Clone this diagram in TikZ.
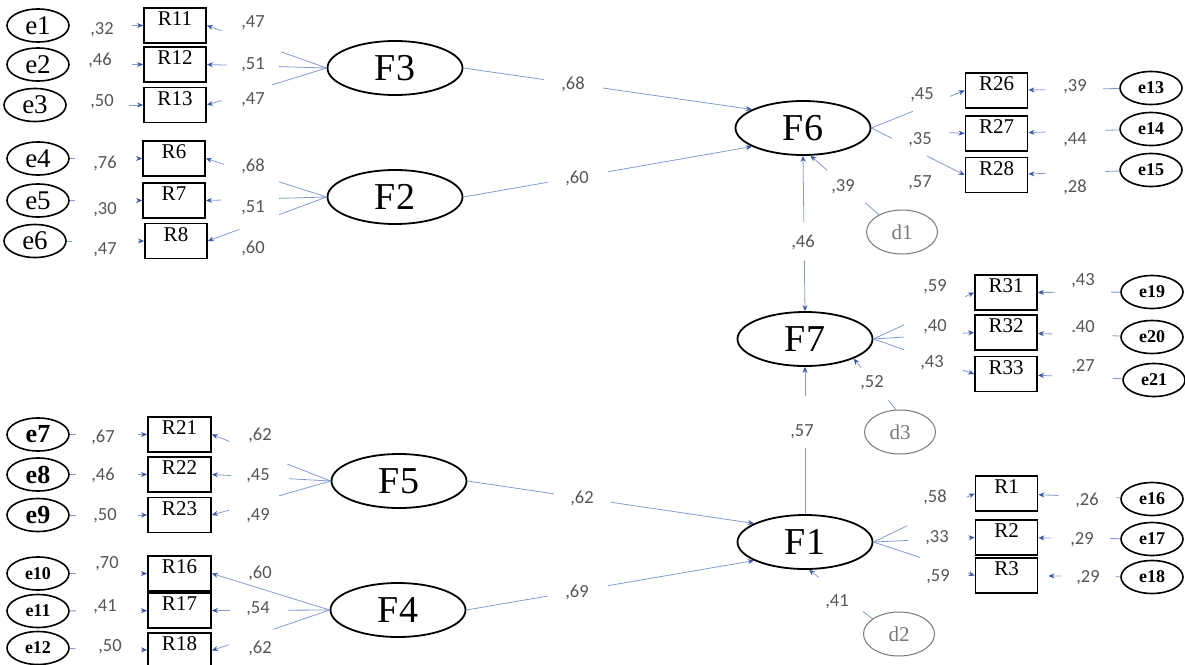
\documentclass[tikz,border=0pt]{standalone}
\usepackage{fontspec}
\setmainfont{Liberation Serif}
\newfontfamily\lblfont{Carlito}
\usetikzlibrary{arrows.meta,shapes.geometric}
\definecolor{lineblue}{RGB}{132,155,205}
\definecolor{tipblue}{RGB}{60,85,160}
\definecolor{lblgray}{RGB}{85,85,85}
\definecolor{dgray}{RGB}{120,120,120}
\tikzset{tipb/.tip={Stealth[length=6pt,width=5pt,color=tipblue]}}
\begin{document}
\begin{tikzpicture}[x=1pt,y=-1pt,
 fac/.style={draw, ellipse, line width=1.8pt, minimum width=135pt, minimum height=54pt, inner sep=0pt, font=\fontsize{38}{38}\selectfont},
 obs/.style={draw, rectangle, line width=1.8pt, minimum width=62pt, minimum height=35pt, inner sep=0pt, text height=9pt, text depth=9pt, font=\fontsize{21}{21}\selectfont},
 err/.style={draw, ellipse, line width=1.6pt, minimum width=62pt, minimum height=33pt, inner sep=0pt, font=\fontsize{27}{27}\selectfont},
 errb/.style={err, font=\bfseries\fontsize{26}{26}\selectfont},
 errs/.style={err, font=\bfseries\fontsize{18}{18}\selectfont},
 dist/.style={draw=dgray, ellipse, line width=1pt, minimum width=71pt, minimum height=44pt, inner sep=0pt, text=dgray, font=\fontsize{21}{21}\selectfont},
 conn/.style={draw=lineblue, line width=0.8pt, -tipb},
 dconn/.style={draw=lineblue, line width=0.8pt, tipb-tipb},
 gapd/.style n args={2}{dash pattern=on #1pt off #2pt on 3000pt},
 lbl/.style={text=lblgray, inner sep=0pt, font=\lblfont\fontsize{18.5}{18.5}\selectfont}
]
\useasboundingbox (0,0) rectangle (1185,664);

% ---------- top-left block ----------
\node[obs] (R11) at (175,25.5) {R11};
\node[obs] (R12) at (175,64.5) {R12};
\node[obs] (R13) at (175,105) {R13};
\node[obs] (R6) at (174,158.5) {R6};
\node[obs] (R7) at (174,200.5) {R7};
\node[obs] (R8) at (176,241) {R8};
\node[err] (e1) at (38,25.5) {e1};
\node[err] (e2) at (38,64.5) {e2};
\node[err] (e3) at (35,105) {e3};
\node[err] (e4) at (38,158.5) {e4};
\node[err] (e5) at (38,200.5) {e5};
\node[err] (e6) at (35,241) {e6};
\node[fac] (F3) at (395,68) {F3};
\node[fac] (F2) at (395,197) {F2};

% ---------- bottom-left block ----------
\node[obs, minimum width=63pt] (R21) at (179.5,434.5) {R21};
\node[obs, minimum width=63pt] (R22) at (179.5,474.5) {R22};
\node[obs, minimum width=63pt] (R23) at (179.5,515) {R23};
\node[obs, minimum width=63pt] (R16) at (179.5,573.5) {R16};
\node[obs, minimum width=63pt] (R17) at (179.5,610.5) {R17};
\node[obs, minimum width=63pt] (R18) at (179.5,650.5) {R18};
\node[errb] (e7) at (38,434.5) {e7};
\node[errb] (e8) at (38,474.5) {e8};
\node[errb] (e9) at (38,515) {e9};
\node[errs] (e10) at (38,573.5) {e10};
\node[errs] (e11) at (38,611) {e11};
\node[errs] (e12) at (38,648) {e12};
\node[fac] (F5) at (399,481) {F5};
\node[fac] (F4) at (398,610) {F4};

% ---------- right side ----------
\node[fac] (F6) at (803,128) {F6};
\node[fac] (F7) at (805,339) {F7};
\node[fac] (F1) at (805,542) {F1};

\node[obs] (R26) at (996.5,90.5) {R26};
\node[obs] (R27) at (996.5,133.5) {R27};
\node[obs] (R28) at (996.5,175) {R28};
\node[errs] (e13) at (1151,88) {e13};
\node[errs] (e14) at (1151,129) {e14};
\node[errs] (e15) at (1151,170) {e15};

\node[obs] (R31) at (1006,292.5) {R31};
\node[obs] (R32) at (1006,332.5) {R32};
\node[obs] (R33) at (1006,374) {R33};
\node[errs] (e19) at (1152,292) {e19};
\node[errs] (e20) at (1152,337) {e20};
\node[errs] (e21) at (1154,380) {e21};

\node[obs] (R1) at (1006.5,493.5) {R1};
\node[obs] (R2) at (1006.5,537.5) {R2};
\node[obs] (R3) at (1006.5,575.5) {R3};
\node[errs] (e16) at (1152,499) {e16};
\node[errs] (e17) at (1152,539) {e17};
\node[errs] (e18) at (1152,577) {e18};

\node[dist] (d1) at (902,232) {d1};
\node[dist] (d3) at (900,432) {d3};
\node[dist] (d2) at (899,634) {d2};

% ---------- error -> indicator ----------
\draw[conn, shorten <=62pt] (e1) -- (R11);
\draw[conn, shorten <=62pt] (e2) -- (R12);
\draw[conn, shorten <=62pt] (e3) -- (R13);
\draw[conn, gapd={5}{63}] (e4) -- (R6);
\draw[conn, gapd={5}{63}] (e5) -- (R7);
\draw[conn, gapd={5}{66}] (e6) -- (R8);
\draw[conn, gapd={6}{62}] (e7) -- (R21);
\draw[conn, gapd={6}{62}] (e8) -- (R22);
\draw[conn, gapd={6}{62}] (e9) -- (R23);
\draw[conn, gapd={6}{65}] (e10) -- (R16);
\draw[conn, gapd={6}{65}] (e11) -- (R17);
\draw[conn, gapd={6}{65}] (e12) -- (R18);
\draw[conn, gapd={16}{58}] (e13) -- (R26);
\draw[conn, gapd={14}{60}] (e14) -- (R27);
\draw[conn, gapd={14}{60}] (e15) -- (R28);
\draw[conn, gapd={9}{56}] (e19) -- (R31);
\draw[conn, gapd={8}{60}] (e20) -- (R32);
\draw[conn, gapd={10}{60}] (e21) -- (R33);
\draw[conn, gapd={4}{58}] (e16) -- (R1);
\draw[conn, gapd={10}{59}] (e17) -- (R2);
\draw[conn, gapd={4}{55}, shorten >=10pt] (e18) -- (R3);

% ---------- factor -> indicator ----------
\draw[conn, gapd={48}{63.5}] (F3.west) -- (R11.east);
\draw[conn, gapd={47.5}{52}] (F3.west) -- (R12.east);
\draw[conn, gapd={57}{53}] (F3.west) -- (R13.east);
\draw[conn, gapd={50}{58}] (F2.west) -- (R6.east);
\draw[conn, gapd={47.5}{58}] (F2.west) -- (R7.east);
\draw[conn, gapd={50.5}{42.5}] (F2.west) -- (R8.east);
\draw[conn, gapd={46.6}{62}] (F5.west) -- (R21.east);
\draw[conn, gapd={41.6}{58}] (F5.west) -- (R22.east);
\draw[conn, gapd={53.5}{52}] (F5.west) -- (R23.east);
\draw[conn] (F4.west) -- (R16.east);
\draw[conn, gapd={41.5}{58}] (F4.west) -- (R17.east);
\draw[conn, gapd={59.5}{47}] (F4.west) -- (R18.east);

\draw[conn, gapd={44.7}{40}] (F6.east) -- (R26.west);
\draw[conn, shorten <=78pt] (F6.east) -- (R27.west);
\draw[conn, gapd={23}{39}] (F6.east) -- (R28.west);
\draw[conn, gapd={34}{67}] (F7.east) -- (R31.west);
\draw[conn, gapd={31}{59}] (F7.east) -- (R32.west);
\draw[conn, gapd={32.7}{62}] (F7.east) -- (R33.west);
\draw[conn, gapd={37.6}{66}] (F1.east) -- (R1.west);
\draw[conn, gapd={35}{60}] (F1.east) -- (R2.west);
\draw[conn, gapd={49.4}{50.5}] (F1.east) -- (R3.west);

% ---------- structural paths ----------
\draw[conn, gapd={81.3}{59.6}] (F3.east) -- (F6.160);
\draw[conn, gapd={85.8}{61}] (F2.east) -- (F6.200);
\draw[conn, gapd={87.5}{57.6}] (F5.east) -- (F1.160);
\draw[conn, gapd={82.7}{61}] (F4.east) -- (F1.200);
\draw[dconn, gapd={62}{39}] (F6.south) -- (F7.north);
\draw[conn, gapd={66}{52}] (F1.north) -- (F7.south);
\draw[conn, gapd={18}{50}] (d1.143) -- (F6.-75);
\draw[conn, gapd={12}{42.7}] (d3.100) -- (F7.-22);
\draw[conn, gapd={12}{56}] (d2.150) -- (F1.-82);

% ---------- coefficient labels ----------
\node[lbl] (l1) at (102,30) {,32};
\node[lbl] (l2) at (100,60) {,46};
\node[lbl] (l3) at (102,102) {,50};
\node[lbl] (l4) at (105,163) {,76};
\node[lbl] (l5) at (105,210) {,30};
\node[lbl] (l6) at (105,250) {,47};
\node[lbl] (l7) at (253,23) {,47};
\node[lbl] (l8) at (253,65) {,51};
\node[lbl] (l9) at (253,100) {,47};
\node[lbl] (l10) at (253,166) {,68};
\node[lbl] (l11) at (253,208) {,51};
\node[lbl] (l12) at (253,248) {,60};

\node[lbl] (l13) at (103,437) {,67};
\node[lbl] (l14) at (103,475) {,46};
\node[lbl] (l15) at (105,516) {,50};
\node[lbl] (l16) at (107,564) {,70};
\node[lbl] (l17) at (105,607) {,41};
\node[lbl] (l18) at (110,647) {,50};
\node[lbl] (l19) at (260,435) {,62};
\node[lbl] (l20) at (258,476) {,45};
\node[lbl] (l21) at (258,516) {,49};
\node[lbl] (l22) at (260,573) {,60};
\node[lbl] (l23) at (258,609) {,54};
\node[lbl] (l24) at (260,648) {,62};

\node[lbl] (l25) at (573,84) {,68};
\node[lbl] (l26) at (577,178) {,60};
\node[lbl] (l27) at (582,498) {,62};
\node[lbl] (l28) at (577,592) {,69};
\node[lbl] (l29) at (803,242) {,46};
\node[lbl] (l30) at (802,432) {,57};
\node[lbl] (l31) at (843,187) {,39};
\node[lbl] (l32) at (872,383) {,52};
\node[lbl] (l33) at (837,602) {,41};

\node[lbl] (l34) at (922,95) {,45};
\node[lbl] (l35) at (920,140) {,35};
\node[lbl] (l36) at (920,183) {,57};
\node[lbl] (l37) at (1075,87) {,39};
\node[lbl] (l38) at (1075,140) {,44};
\node[lbl] (l39) at (1075,187) {,28};

\node[lbl] (l40) at (935,287) {,59};
\node[lbl] (l41) at (935,327) {,40};
\node[lbl] (l42) at (932,363) {,43};
\node[lbl] (l43) at (1083,281) {,43};
\node[lbl] (l44) at (1083,327) {.40};
\node[lbl] (l45) at (1083,367) {,27};

\node[lbl] (l46) at (935,497) {,58};
\node[lbl] (l47) at (937,538) {,33};
\node[lbl] (l48) at (938,577) {,59};
\node[lbl] (l49) at (1087,500) {,26};
\node[lbl] (l50) at (1082,540) {,29};
\node[lbl] (l51) at (1088,578) {,29};
\end{tikzpicture}
\end{document}
